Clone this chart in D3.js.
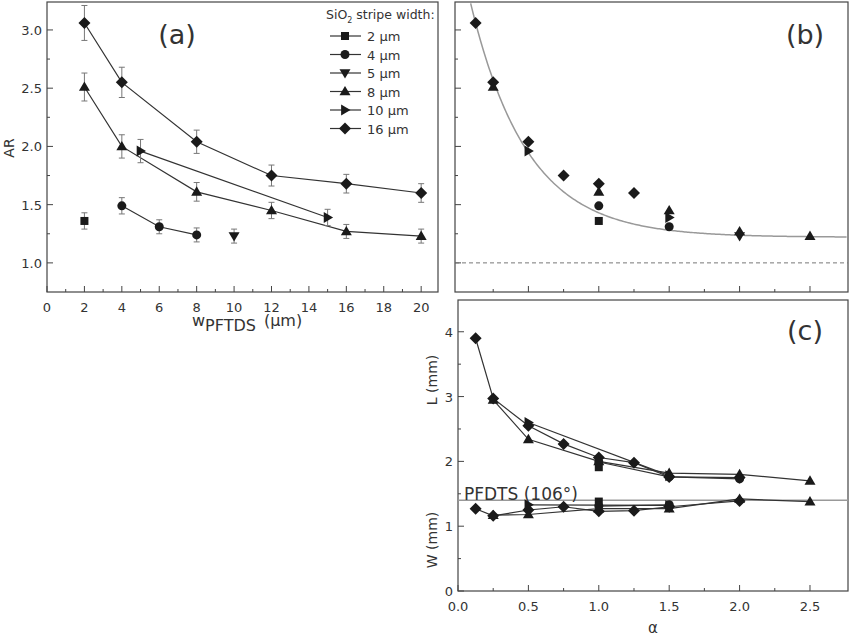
<!DOCTYPE html>
<html><head><meta charset="utf-8">
<script src="https://cdn.jsdelivr.net/npm/d3@7"></script>
<style>
body{margin:0;background:#fff}
text{font-family:"DejaVu Sans",Verdana,sans-serif;fill:#333}
</style></head><body>
<svg id="c" width="850" height="637"></svg>
<script>
// panel (a): AR vs wPFTDS, one array per SiO2 stripe width
var legendNames = ["2 \u03bcm","4 \u03bcm","5 \u03bcm","8 \u03bcm","10 \u03bcm","16 \u03bcm"];
var shapes = ["square","circle","down","up","right","diamond"];
var aW2  = [[2,1.36,0.07]];
var aW4  = [[4,1.49,0.07],[6,1.31,0.06],[8,1.24,0.06]];
var aW5  = [[10,1.23,0.06]];
var aW8  = [[2,2.51,0.12],[4,2.0,0.1],[8,1.61,0.08],[12,1.45,0.07],[16,1.27,0.06],[20,1.23,0.06]];
var aW10 = [[5,1.96,0.1],[15,1.39,0.07]];
var aW16 = [[2,3.06,0.15],[4,2.55,0.13],[8,2.04,0.1],[12,1.75,0.09],[16,1.68,0.08],[20,1.60,0.08]];
var aSeries = [aW2,aW4,aW5,aW8,aW10,aW16];

// panel (b): AR vs alpha
var bPoints = [
  ["diamond",0.125,3.06],["diamond",0.25,2.55],["up",0.25,2.51],["diamond",0.5,2.04],["right",0.5,1.96],
  ["diamond",0.75,1.75],["diamond",1.0,1.68],["up",1.0,1.61],["circle",1.0,1.49],["square",1.0,1.36],
  ["diamond",1.25,1.60],["up",1.5,1.45],["right",1.5,1.39],["circle",1.5,1.31],
  ["up",2.0,1.27],["down",2.0,1.23],["up",2.5,1.23]];
var fitY0 = 1.22, fitA = 2.51, fitT = 0.403; // exponential decay fit

// panel (c): L and W vs alpha
var cL = [
  ["diamond",[[0.125,3.9],[0.25,2.97],[0.5,2.55],[0.75,2.27],[1.0,2.06],[1.25,1.98],[1.5,1.76],[2.0,1.75]]],
  ["up",[[0.25,2.95],[0.5,2.34],[1.0,2.0],[1.5,1.82],[2.0,1.8],[2.5,1.70]]],
  ["right",[[0.5,2.6],[1.5,1.78]]],
  ["square",[[1.0,1.91]]],
  ["circle",[[1.0,1.99],[1.5,1.76],[2.0,1.73]]]];
var cW = [
  ["diamond",[[0.125,1.27],[0.25,1.16],[0.5,1.25],[0.75,1.30],[1.0,1.23],[1.25,1.24],[1.5,1.30],[2.0,1.39]]],
  ["up",[[0.25,1.17],[0.5,1.18],[1.0,1.27],[1.5,1.27],[2.0,1.42],[2.5,1.38]]],
  ["right",[[0.5,1.33],[1.5,1.32]]],
  ["square",[[1.0,1.38]]],
  ["circle",[[1.0,1.31],[1.5,1.33]]]];
var pfdtsW = 1.4;

var svg = d3.select("#c");
var ink = "#1a1a1a", axc = "#444";

function marker(g, shape, x, y){
  if (shape=="square") {
    g.append("rect").attr("x",x-4).attr("y",y-4).attr("width",8).attr("height",8).attr("fill",ink);
  } else if (shape=="circle") {
    g.append("circle").attr("cx",x).attr("cy",y).attr("r",4.5).attr("fill",ink);
  } else {
    var r = 5.5, pts;
    if (shape=="up") pts = [[0,-r],[r,r*0.7],[-r,r*0.7]];
    else if (shape=="down") pts = [[0,r],[r,-r*0.7],[-r,-r*0.7]];
    else if (shape=="right") pts = [[r,0],[-r*0.7,-r],[-r*0.7,r]];
    else pts = [[0,-6],[6,0],[0,6],[-6,0]];
    g.append("polygon").attr("points", pts.map(p=>(x+p[0])+","+(y+p[1])).join(" ")).attr("fill",ink);
  }
}

function frame(x0,x1,y0,y1){
  svg.append("rect").attr("x",x0).attr("y",y0).attr("width",x1-x0).attr("height",y1-y0)
    .attr("fill","none").attr("stroke",axc).attr("stroke-width",1.2);
}
function ticksX(x, y, major, minor, labels, fmt){
  var g = svg.append("g").attr("transform","translate(0,"+y+")");
  minor.forEach(v=>g.append("line").attr("x1",x(v)).attr("x2",x(v)).attr("y1",0).attr("y2",-3).attr("stroke",axc));
  major.forEach(v=>{
    g.append("line").attr("x1",x(v)).attr("x2",x(v)).attr("y1",0).attr("y2",-6).attr("stroke",axc);
    if (labels) g.append("text").attr("x",x(v)).attr("y",20).attr("text-anchor","middle").attr("font-size",13).text(fmt(v));
  });
}
function ticksY(y, x, major, minor, labels, fmt){
  var g = svg.append("g").attr("transform","translate("+x+",0)");
  minor.forEach(v=>g.append("line").attr("y1",y(v)).attr("y2",y(v)).attr("x1",0).attr("x2",3).attr("stroke",axc));
  major.forEach(v=>{
    g.append("line").attr("y1",y(v)).attr("y2",y(v)).attr("x1",0).attr("x2",6).attr("stroke",axc);
    if (labels) g.append("text").attr("x",-5).attr("y",y(v)+5).attr("text-anchor","end").attr("font-size",13).text(fmt(v));
  });
}

/* panel (a) */
var xa = d3.scaleLinear().domain([0,20.9]).range([47,438]);
var ya = d3.scaleLinear().domain([0.75,3.24]).range([292,2]);
frame(47,438,2,292);
ticksX(xa,292,d3.range(0,21,2),d3.range(1,21,2),true,d=>d);
ticksY(ya,47,[1,1.5,2,2.5,3],[1.25,1.75,2.25,2.75],true,d3.format(".1f"));
var line = d3.line().x(d=>xa(d[0])).y(d=>ya(d[1]));
var ga = svg.append("g");
aSeries.forEach(function(s,i){
  ga.append("path").attr("d",line(s)).attr("fill","none").attr("stroke","#333").attr("stroke-width",1.2);
  s.forEach(function(d){
    var x=xa(d[0]);
    ga.append("path").attr("d","M"+(x-3)+","+ya(d[1]+d[2])+"h6M"+x+","+ya(d[1]+d[2])+"V"+ya(d[1]-d[2])+"M"+(x-3)+","+ya(d[1]-d[2])+"h6")
      .attr("stroke","#777").attr("fill","none");
    marker(ga,shapes[i],x,ya(d[1]));
  });
});
svg.append("text").attr("x",177).attr("y",44).attr("text-anchor","middle").attr("font-size",27).text("(a)");
svg.append("text").attr("transform","translate(14,148) rotate(-90)").attr("text-anchor","middle").attr("font-size",14).text("AR");
var xl = svg.append("text").attr("x",192).attr("y",326).attr("font-size",16);
xl.append("tspan").text("w");
xl.append("tspan").attr("dy",5).text("PFTDS");
xl.append("tspan").attr("dy",-5).attr("dx",8).text("(\u03bcm)");
var lg = svg.append("g");
var lt = lg.append("text").attr("x",326).attr("y",19).attr("font-size",12.5).text("SiO");
lt.append("tspan").attr("dy",4).attr("font-size",8).text("2");
lt.append("tspan").attr("dy",-4).text(" stripe width:");
legendNames.forEach(function(n,i){
  var y = 36 + i*18.5;
  lg.append("line").attr("x1",330).attr("x2",361).attr("y1",y).attr("y2",y).attr("stroke","#333").attr("stroke-width",1.2);
  marker(lg,shapes[i],345,y);
  lg.append("text").attr("x",367).attr("y",y+5).attr("font-size",13).text(n);
});

/* panel (b) */
var xb = d3.scaleLinear().domain([0,2.77]).range([458,848]);
var yb = ya;
frame(455,848,2,292);
ticksX(xb,292,[0.5,1,1.5,2,2.5],[0.25,0.75,1.25,1.75,2.25],false);
ticksY(yb,455,[1,1.5,2,2.5,3],[1.25,1.75,2.25,2.75],false);
svg.append("line").attr("x1",455).attr("x2",848).attr("y1",yb(1)).attr("y2",yb(1))
  .attr("stroke","#777").attr("stroke-dasharray","4,3");
var fit = d3.range(0.08,2.77,0.01).map(a=>[a, fitY0 + fitA*Math.exp(-a/fitT)]).filter(d=>d[1]<3.24);
svg.append("path").attr("d",d3.line().x(d=>xb(d[0])).y(d=>yb(d[1]))(fit)).attr("fill","none").attr("stroke","#999").attr("stroke-width",1.5);
var gb = svg.append("g");
bPoints.forEach(p=>marker(gb,p[0],xb(p[1]),yb(p[2])));
svg.append("text").attr("x",805).attr("y",44).attr("text-anchor","middle").attr("font-size",27).text("(b)");

/* panel (c) */
var xc = xb;
var yc = d3.scaleLinear().domain([0,4.49]).range([591,300]);
frame(458,848,300,591);
ticksX(xc,591,[0,0.5,1,1.5,2,2.5],[0.25,0.75,1.25,1.75,2.25],true,d3.format(".1f"));
ticksY(yc,458,[0,1,2,3,4],[0.5,1.5,2.5,3.5],true,d=>d);
svg.append("line").attr("x1",458).attr("x2",848).attr("y1",yc(pfdtsW)).attr("y2",yc(pfdtsW)).attr("stroke","#999").attr("stroke-width",1.3);
svg.append("text").attr("x",464).attr("y",500).attr("font-size",17).text("PFDTS (106\u00b0)");
var lc = d3.line().x(d=>xc(d[0])).y(d=>yc(d[1]));
var gc = svg.append("g");
cL.concat(cW).forEach(function(s){
  gc.append("path").attr("d",lc(s[1])).attr("fill","none").attr("stroke","#333").attr("stroke-width",1.2);
});
cL.concat(cW).forEach(function(s){ s[1].forEach(d=>marker(gc,s[0],xc(d[0]),yc(d[1]))); });
svg.append("text").attr("x",805).attr("y",340).attr("text-anchor","middle").attr("font-size",27).text("(c)");
svg.append("text").attr("transform","translate(437,380) rotate(-90)").attr("text-anchor","middle").attr("font-size",14).text("L (mm)");
svg.append("text").attr("transform","translate(437,540) rotate(-90)").attr("text-anchor","middle").attr("font-size",14).text("W (mm)");
svg.append("text").attr("x",653).attr("y",633).attr("text-anchor","middle").attr("font-size",15).attr("font-family","Liberation Serif").text("\u03b1");
</script></body></html>
